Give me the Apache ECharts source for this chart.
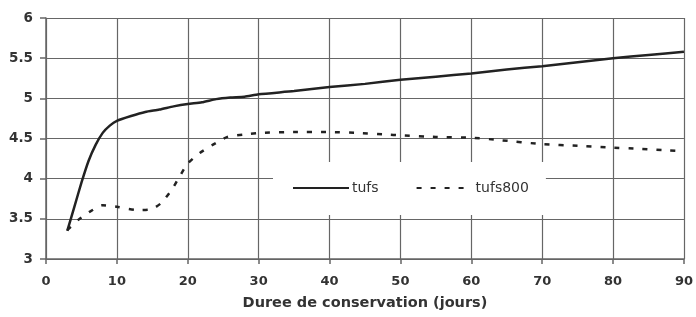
<!DOCTYPE html>
<html><head><meta charset="utf-8">
<script src="https://cdn.jsdelivr.net/npm/echarts@6/dist/echarts.min.js"></script>
<style>html,body{margin:0;padding:0;background:#fff}#c{width:696px;height:317px}</style>
</head><body><div id="c"></div>
<script>
var xTicks = [0,10,20,30,40,50,60,70,80,90];
var yTicks = [3,3.5,4,4.5,5,5.5,6];
var tufsX = [3,4,5,6,7,8,9,10,12,14,16,18,20,22,24,26,28,30,35,40,45,50,55,60,65,70,75,80,85,90];
var tufsY = [3.35,3.65,3.95,4.22,4.42,4.57,4.66,4.72,4.78,4.83,4.86,4.9,4.93,4.95,4.99,5.01,5.02,5.05,5.09,5.14,5.18,5.23,5.27,5.31,5.36,5.4,5.45,5.5,5.54,5.58];
var t800X = [3,4.6,6.2,8,10,12.8,14.9,16.3,17.8,18.8,20,21.7,23.5,25.6,28,30.5,35,40,44,48,50,55,60,64,70,75,79,84,88,90];
var t800Y = [3.36,3.49,3.59,3.67,3.65,3.61,3.62,3.7,3.87,4.02,4.19,4.32,4.42,4.52,4.55,4.57,4.58,4.58,4.57,4.55,4.54,4.52,4.51,4.48,4.43,4.41,4.39,4.37,4.35,4.34];
function pairs(xs, ys){ return xs.map(function(x,i){return [x, ys[i]];}); }
var chart = echarts.init(document.getElementById('c'), null, {renderer:'canvas'});
var gridCol = '#666';
var FONT = 'DejaVu Sans, sans-serif';
chart.setOption({
  animation:false,
  backgroundColor:'#fff',
  textStyle:{fontFamily:FONT},
  grid:{left:46, right:10, top:18, bottom:58},
  legend:{
    left:273, top:162, orient:'horizontal',
    backgroundColor:'#fff', padding:[19,17,20,19], itemGap:37,
    itemWidth:56, itemHeight:14,
    itemStyle:{opacity:0},
    textStyle:{fontSize:14, color:'#333', fontFamily:FONT, padding:[0,0,0,-2]},
    data:['tufs','tufs800']
  },
  xAxis:{
    type:'value', min:xTicks[0], max:xTicks[xTicks.length-1], interval:10,
    name:'Duree de conservation (jours)', nameLocation:'middle', nameGap:37,
    nameTextStyle:{fontSize:14.5, fontWeight:'bold', color:'#333', fontFamily:FONT},
    axisLine:{show:true, lineStyle:{color:gridCol, width:1.5}},
    axisTick:{show:true, length:5, lineStyle:{color:gridCol, width:1.5}},
    axisLabel:{fontSize:13, fontWeight:'bold', color:'#333', margin:16, fontFamily:FONT},
    splitLine:{show:true, lineStyle:{color:gridCol, width:1.2}}
  },
  yAxis:{
    type:'value', min:yTicks[0], max:yTicks[yTicks.length-1], interval:0.5,
    axisLine:{show:true, lineStyle:{color:gridCol, width:1.5}},
    axisTick:{show:true, length:6, lineStyle:{color:gridCol, width:1.5}},
    axisLabel:{fontSize:13.5, fontWeight:'bold', color:'#333', margin:13, fontFamily:FONT},
    splitLine:{show:true, lineStyle:{color:gridCol, width:1.2}}
  },
  series:[
    {name:'tufs', type:'line', data:pairs(tufsX,tufsY), showSymbol:false, symbol:'none', symbolSize:0, smooth:0.2,
     lineStyle:{color:'#222', width:2.5}, itemStyle:{color:'#222'}, z:3},
    {name:'tufs800', type:'line', data:pairs(t800X,t800Y), showSymbol:false, symbol:'none', symbolSize:0, smooth:0.2,
     lineStyle:{color:'#222', width:2.5, type:[5,9]}, itemStyle:{color:'#222'}, z:2}
  ]
});
</script></body></html>
